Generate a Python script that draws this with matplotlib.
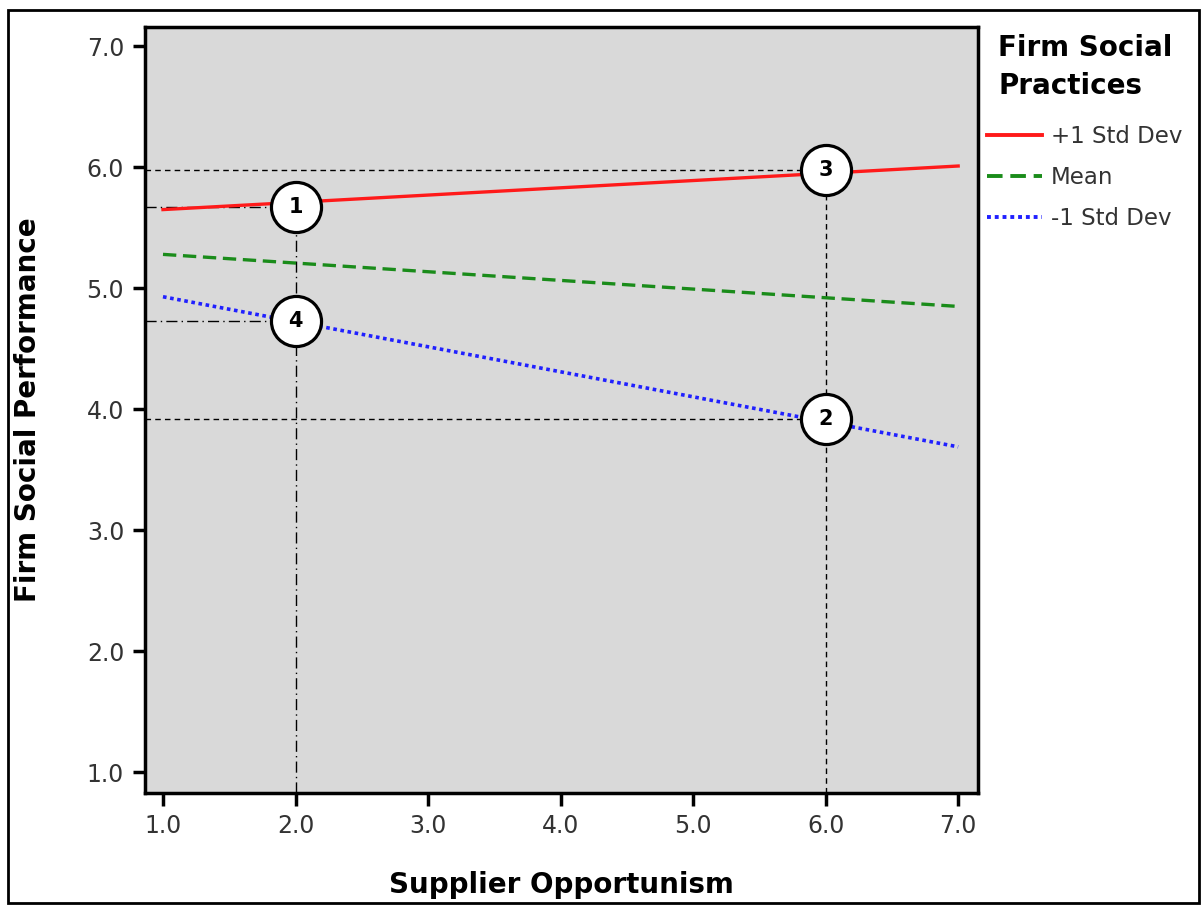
import numpy as np
import matplotlib.pyplot as plt
from matplotlib.patches import Rectangle

# moderator lines (two end points each)
x_vals = [1.0, 7.0]
high = [5.65, 6.01]
mean = [5.28, 4.85]
low = [4.93, 3.69]
series_names = ["+1 Std Dev", "Mean", "-1 Std Dev"]
legend_title = "Firm Social\nPractices"

# numbered points
pt_labels = ["1", "2", "3", "4"]
pt_x = [2.0, 6.0, 6.0, 2.0]
pt_y = [5.67, 3.92, 5.975, 4.73]

ticks = [1.0, 2.0, 3.0, 4.0, 5.0, 6.0, 7.0]
xmin, xmax = 0.864, 7.15
ymin, ymax = 0.83, 7.157

fig = plt.figure(figsize=(12.03, 9.06), dpi=100)
ax = fig.add_axes([0.1205, 0.1247, 0.6925, 0.8453])
ax.set_facecolor("#d9d9d9")

ax.plot(x_vals, high, color="#ff1a1a", lw=2.4, ls="-", label=series_names[0], zorder=3)
ax.plot(x_vals, mean, color="#1a8c1a", lw=2.4, ls=(0, (4, 2)), label=series_names[1], zorder=3)
ax.plot(x_vals, low, color="#2020ff", lw=2.6, ls=(0, (1, 1)), label=series_names[2], zorder=3)

# guide lines to the numbered points
dash = (0, (4, 3))
dashdot = (0, (8, 3, 1, 3))
styles = [dashdot, dash, dash, dashdot]
for lab, x, y, st in zip(pt_labels, pt_x, pt_y, styles):
    ax.plot([xmin, x], [y, y], color="black", lw=1.0, ls=st, zorder=2)
ax.plot([2.0, 2.0], [ymin, pt_y[0]], color="black", lw=1.0, ls=dashdot, zorder=2)
ax.plot([6.0, 6.0], [ymin, pt_y[2]], color="black", lw=1.0, ls=dash, zorder=2)

ax.scatter(pt_x, pt_y, s=1300, facecolor="white", edgecolor="black", linewidth=2.3, zorder=5)
for lab, x, y in zip(pt_labels, pt_x, pt_y):
    ax.text(x, y, lab, ha="center", va="center", fontsize=15, fontweight="bold", zorder=6)

ax.set_xlim(xmin, xmax)
ax.set_ylim(ymin, ymax)
ax.set_xticks(ticks)
ax.set_yticks(ticks)
ax.set_xticklabels([f"{t:.1f}" for t in ticks], fontsize=17, color="#333333")
ax.set_yticklabels([f"{t:.1f}" for t in ticks], fontsize=17, color="#333333")
ax.tick_params(direction="out", length=9, width=2.5, pad=6)
for s in ax.spines.values():
    s.set_linewidth(2.5)

ax.set_xlabel("Supplier Opportunism", fontsize=20, fontweight="bold", va="center")
ax.set_ylabel("Firm Social Performance", fontsize=20, fontweight="bold", va="center")
ax.xaxis.set_label_coords(0.5, -0.120)
ax.yaxis.set_label_coords(-0.1405, 0.5)

fig.text(0.8296, 0.962, legend_title, ha="left", va="top", fontsize=20,
         fontweight="bold", linespacing=1.45)
leg = fig.legend(loc="upper left", bbox_to_anchor=(0.8204, 0.8625), frameon=False,
                 fontsize=16.5, borderpad=0, borderaxespad=0,
                 handlelength=2.4, handletextpad=0.4, labelspacing=0.8)
for t in leg.get_texts():
    t.set_color("#333333")
for h in leg.get_lines():
    h.set_linewidth(2.8)

# outer border
fig.patches.append(Rectangle((0.007, 0.003), 0.99, 0.986, transform=fig.transFigure,
                             fill=False, edgecolor="black", linewidth=2))

fig.savefig("out.png", dpi=100)
